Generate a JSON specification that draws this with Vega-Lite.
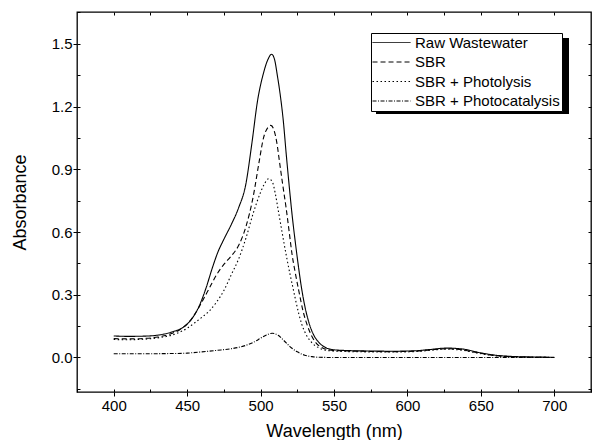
{
  "$schema": "https://vega.github.io/schema/vega-lite/v6.json",
  "width": 514,
  "height": 380,
  "autosize": {"type": "none"},
  "padding": {"left": 77, "top": 12, "right": 1, "bottom": 48},
  "background": "white",
  "config": {
    "font": "Liberation Sans",
    "view": {"stroke": "black", "strokeWidth": 1.3},
    "axis": {"grid": false, "domain": false, "tickColor": "black", "labelColor": "black", "titleColor": "black", "labelFont": "Liberation Sans", "titleFont": "Liberation Sans", "titleFontWeight": "normal", "tickWidth": 1, "minExtent": 0}
  },
  "data": {"values": [
    {"s":"Raw Wastewater","w":400,"a":0.103},{"s":"Raw Wastewater","w":410,"a":0.101},{"s":"Raw Wastewater","w":420,"a":0.102},{"s":"Raw Wastewater","w":430,"a":0.107},{"s":"Raw Wastewater","w":440,"a":0.123},{"s":"Raw Wastewater","w":447,"a":0.143},{"s":"Raw Wastewater","w":454,"a":0.193},{"s":"Raw Wastewater","w":458,"a":0.243},{"s":"Raw Wastewater","w":463,"a":0.335},{"s":"Raw Wastewater","w":467,"a":0.425},{"s":"Raw Wastewater","w":471,"a":0.505},{"s":"Raw Wastewater","w":475,"a":0.565},{"s":"Raw Wastewater","w":480,"a":0.635},{"s":"Raw Wastewater","w":485,"a":0.715},{"s":"Raw Wastewater","w":490,"a":0.83},{"s":"Raw Wastewater","w":494,"a":1.02},{"s":"Raw Wastewater","w":498,"a":1.23},{"s":"Raw Wastewater","w":502,"a":1.36},{"s":"Raw Wastewater","w":505,"a":1.425},{"s":"Raw Wastewater","w":507.5,"a":1.45},{"s":"Raw Wastewater","w":509.5,"a":1.425},{"s":"Raw Wastewater","w":511.5,"a":1.345},{"s":"Raw Wastewater","w":513.5,"a":1.25},{"s":"Raw Wastewater","w":515.5,"a":1.13},{"s":"Raw Wastewater","w":517.5,"a":0.97},{"s":"Raw Wastewater","w":519.5,"a":0.82},{"s":"Raw Wastewater","w":521.5,"a":0.68},{"s":"Raw Wastewater","w":523.5,"a":0.56},{"s":"Raw Wastewater","w":525.5,"a":0.45},{"s":"Raw Wastewater","w":527.5,"a":0.35},{"s":"Raw Wastewater","w":530,"a":0.25},{"s":"Raw Wastewater","w":533,"a":0.165},{"s":"Raw Wastewater","w":536,"a":0.11},{"s":"Raw Wastewater","w":540,"a":0.07},{"s":"Raw Wastewater","w":545,"a":0.045},{"s":"Raw Wastewater","w":550,"a":0.037},{"s":"Raw Wastewater","w":560,"a":0.033},{"s":"Raw Wastewater","w":575,"a":0.031},{"s":"Raw Wastewater","w":590,"a":0.03},{"s":"Raw Wastewater","w":605,"a":0.032},{"s":"Raw Wastewater","w":615,"a":0.038},{"s":"Raw Wastewater","w":627,"a":0.045},{"s":"Raw Wastewater","w":638,"a":0.04},{"s":"Raw Wastewater","w":650,"a":0.022},{"s":"Raw Wastewater","w":660,"a":0.011},{"s":"Raw Wastewater","w":675,"a":0.004},{"s":"Raw Wastewater","w":690,"a":0.002},{"s":"Raw Wastewater","w":700,"a":0.001},
    {"s":"SBR","w":400,"a":0.09},{"s":"SBR","w":410,"a":0.089},{"s":"SBR","w":420,"a":0.091},{"s":"SBR","w":430,"a":0.098},{"s":"SBR","w":440,"a":0.116},{"s":"SBR","w":445,"a":0.133},{"s":"SBR","w":450,"a":0.16},{"s":"SBR","w":455,"a":0.205},{"s":"SBR","w":460,"a":0.265},{"s":"SBR","w":465,"a":0.33},{"s":"SBR","w":470,"a":0.395},{"s":"SBR","w":475,"a":0.445},{"s":"SBR","w":480,"a":0.485},{"s":"SBR","w":485,"a":0.535},{"s":"SBR","w":490,"a":0.625},{"s":"SBR","w":495,"a":0.77},{"s":"SBR","w":499,"a":0.935},{"s":"SBR","w":502,"a":1.05},{"s":"SBR","w":505,"a":1.1},{"s":"SBR","w":507,"a":1.11},{"s":"SBR","w":509,"a":1.09},{"s":"SBR","w":511,"a":1.03},{"s":"SBR","w":513,"a":0.93},{"s":"SBR","w":515,"a":0.83},{"s":"SBR","w":517.5,"a":0.71},{"s":"SBR","w":519.5,"a":0.6},{"s":"SBR","w":521.5,"a":0.49},{"s":"SBR","w":523.5,"a":0.41},{"s":"SBR","w":526,"a":0.32},{"s":"SBR","w":529,"a":0.22},{"s":"SBR","w":532,"a":0.15},{"s":"SBR","w":535,"a":0.1},{"s":"SBR","w":538,"a":0.068},{"s":"SBR","w":542,"a":0.047},{"s":"SBR","w":548,"a":0.035},{"s":"SBR","w":560,"a":0.031},{"s":"SBR","w":575,"a":0.029},{"s":"SBR","w":590,"a":0.028},{"s":"SBR","w":605,"a":0.03},{"s":"SBR","w":615,"a":0.036},{"s":"SBR","w":627,"a":0.042},{"s":"SBR","w":638,"a":0.036},{"s":"SBR","w":650,"a":0.02},{"s":"SBR","w":660,"a":0.009},{"s":"SBR","w":675,"a":0.003},{"s":"SBR","w":690,"a":0.001},{"s":"SBR","w":700,"a":0.0},
    {"s":"SBR + Photolysis","w":400,"a":0.086},{"s":"SBR + Photolysis","w":410,"a":0.085},{"s":"SBR + Photolysis","w":420,"a":0.087},{"s":"SBR + Photolysis","w":430,"a":0.094},{"s":"SBR + Photolysis","w":440,"a":0.108},{"s":"SBR + Photolysis","w":450,"a":0.14},{"s":"SBR + Photolysis","w":455,"a":0.165},{"s":"SBR + Photolysis","w":460,"a":0.192},{"s":"SBR + Photolysis","w":465,"a":0.222},{"s":"SBR + Photolysis","w":470,"a":0.265},{"s":"SBR + Photolysis","w":475,"a":0.32},{"s":"SBR + Photolysis","w":480,"a":0.395},{"s":"SBR + Photolysis","w":485,"a":0.47},{"s":"SBR + Photolysis","w":490,"a":0.57},{"s":"SBR + Photolysis","w":495,"a":0.69},{"s":"SBR + Photolysis","w":500,"a":0.79},{"s":"SBR + Photolysis","w":503,"a":0.835},{"s":"SBR + Photolysis","w":505.5,"a":0.855},{"s":"SBR + Photolysis","w":508,"a":0.84},{"s":"SBR + Photolysis","w":510,"a":0.785},{"s":"SBR + Photolysis","w":512,"a":0.705},{"s":"SBR + Photolysis","w":514,"a":0.625},{"s":"SBR + Photolysis","w":516,"a":0.545},{"s":"SBR + Photolysis","w":518,"a":0.47},{"s":"SBR + Photolysis","w":520,"a":0.4},{"s":"SBR + Photolysis","w":522,"a":0.335},{"s":"SBR + Photolysis","w":524,"a":0.27},{"s":"SBR + Photolysis","w":526,"a":0.21},{"s":"SBR + Photolysis","w":528,"a":0.16},{"s":"SBR + Photolysis","w":531,"a":0.11},{"s":"SBR + Photolysis","w":535,"a":0.07},{"s":"SBR + Photolysis","w":540,"a":0.045},{"s":"SBR + Photolysis","w":545,"a":0.034},{"s":"SBR + Photolysis","w":555,"a":0.029},{"s":"SBR + Photolysis","w":570,"a":0.027},{"s":"SBR + Photolysis","w":590,"a":0.026},{"s":"SBR + Photolysis","w":605,"a":0.028},{"s":"SBR + Photolysis","w":615,"a":0.034},{"s":"SBR + Photolysis","w":627,"a":0.04},{"s":"SBR + Photolysis","w":638,"a":0.034},{"s":"SBR + Photolysis","w":650,"a":0.018},{"s":"SBR + Photolysis","w":660,"a":0.008},{"s":"SBR + Photolysis","w":675,"a":0.003},{"s":"SBR + Photolysis","w":690,"a":0.001},{"s":"SBR + Photolysis","w":700,"a":0.0},
    {"s":"SBR + Photocatalysis","w":400,"a":0.018},{"s":"SBR + Photocatalysis","w":420,"a":0.018},{"s":"SBR + Photocatalysis","w":440,"a":0.019},{"s":"SBR + Photocatalysis","w":450,"a":0.021},{"s":"SBR + Photocatalysis","w":460,"a":0.027},{"s":"SBR + Photocatalysis","w":470,"a":0.034},{"s":"SBR + Photocatalysis","w":480,"a":0.042},{"s":"SBR + Photocatalysis","w":486,"a":0.05},{"s":"SBR + Photocatalysis","w":490,"a":0.058},{"s":"SBR + Photocatalysis","w":495,"a":0.072},{"s":"SBR + Photocatalysis","w":500,"a":0.092},{"s":"SBR + Photocatalysis","w":504,"a":0.108},{"s":"SBR + Photocatalysis","w":508,"a":0.116},{"s":"SBR + Photocatalysis","w":512,"a":0.106},{"s":"SBR + Photocatalysis","w":516,"a":0.08},{"s":"SBR + Photocatalysis","w":520,"a":0.052},{"s":"SBR + Photocatalysis","w":525,"a":0.027},{"s":"SBR + Photocatalysis","w":530,"a":0.011},{"s":"SBR + Photocatalysis","w":535,"a":0.004},{"s":"SBR + Photocatalysis","w":540,"a":0.001},{"s":"SBR + Photocatalysis","w":550,"a":0.0},{"s":"SBR + Photocatalysis","w":600,"a":0.0},{"s":"SBR + Photocatalysis","w":650,"a":0.0},{"s":"SBR + Photocatalysis","w":700,"a":0.0}
  ]},
  "layer": [
    {
      "mark": {"type": "rect", "color": "black"},
      "encoding": {
        "x": {"datum": 578.6, "type": "quantitative", "scale": {"domain": [375, 725], "nice": false, "zero": false},
              "axis": {"orient": "bottom", "values": [375,400,425,450,475,500,525,550,575,600,625,650,675,700,725], "tickSize": -3, "labels": false, "title": null}},
        "x2": {"datum": 710},
        "y": {"datum": 1.528, "type": "quantitative", "scale": {"domain": [-0.165, 1.652], "nice": false, "zero": false},
              "axis": {"orient": "left", "values": [-0.15,0,0.15,0.3,0.45,0.6,0.75,0.9,1.05,1.2,1.35,1.5,1.65], "tickSize": -3, "labels": false, "title": null}},
        "y2": {"datum": 1.164}
      }
    },
    {
      "mark": {"type": "point", "opacity": 0},
      "encoding": {
        "x": {"datum": 400, "type": "quantitative", "scale": {"domain": [375, 725], "nice": false, "zero": false},
              "axis": {"orient": "top", "values": [400,425,450,475,500,525,550,575,600,625,650,675,700], "tickSize": -3, "labels": false, "title": null, "maxExtent": 0}},
        "y": {"datum": 0, "type": "quantitative", "scale": {"domain": [-0.165, 1.652], "nice": false, "zero": false},
              "axis": {"orient": "right", "values": [-0.15,0,0.15,0.3,0.45,0.6,0.75,0.9,1.05,1.2,1.35,1.5], "tickSize": -3, "labels": false, "title": null, "maxExtent": 0}}
      }
    },
    {
      "mark": {"type": "line", "color": "black", "strokeWidth": 1.1, "interpolate": "monotone"},
      "encoding": {
        "x": {"field": "w", "type": "quantitative", "scale": {"domain": [375, 725], "nice": false, "zero": false},
              "axis": {"orient": "bottom", "values": [400,450,500,550,600,650,700], "tickSize": 4, "labelPadding": 2, "labelFontSize": 15, "title": "Wavelength (nm)", "titleFontSize": 18, "titlePadding": 9}},
        "y": {"field": "a", "type": "quantitative", "scale": {"domain": [-0.165, 1.652], "nice": false, "zero": false},
              "axis": {"orient": "left", "values": [0,0.3,0.6,0.9,1.2,1.5], "format": ".1f", "tickSize": 4, "labelPadding": 1, "labelFontSize": 15, "title": "Absorbance", "titleFontSize": 18, "titlePadding": 22}},
        "strokeDash": {"field": "s", "type": "nominal",
          "scale": {"domain": ["Raw Wastewater", "SBR", "SBR + Photolysis", "SBR + Photocatalysis"], "range": [[1,0],[5,3],[1.5,2.5],[4,1.5,1,1.5]]},
          "legend": {"title": null, "orient": "none", "legendX": 294, "legendY": 21, "fillColor": "white", "strokeColor": "black", "padding": 2, "symbolType": "M-4,0H4", "symbolSize": 90, "symbolOffset": 11, "symbolStrokeColor": "black", "symbolStrokeWidth": 1, "labelFontSize": 15, "labelFont": "Liberation Sans", "labelColor": "black", "labelOffset": 16, "rowPadding": 3.5, "labelLimit": 300}}
      }
    }
  ],
  "resolve": {"axis": {"x": "independent", "y": "independent"}}
}
